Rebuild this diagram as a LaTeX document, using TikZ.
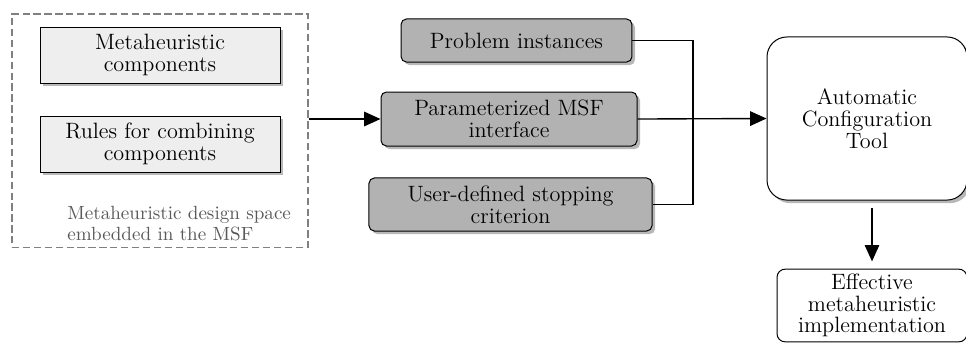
\documentclass[tikz,border=0pt]{standalone}
\usepackage{xcolor}
\usepackage{tikz}
\usetikzlibrary{arrows.meta, positioning, shadows}

\begin{document}
\begin{tikzpicture}[
  x=0.55pt, y=-0.55pt,
  every node/.style={font=\fontsize{12.2}{12}\selectfont, align=center},
  shade/.style={drop shadow={shadow xshift=1.7pt, shadow yshift=-1.7pt, fill=black!28, opacity=1}},
  comp/.style={draw, line width=0.55pt, fill=gray!13, minimum width=132pt, minimum height=30.8pt, inner sep=1pt, shade},
  input/.style={draw, line width=0.55pt, fill=gray!60, rounded corners=3pt, inner sep=1pt, shade},
  tool/.style={draw, line width=0.55pt, fill=white, inner sep=1pt},
  arr/.style={-{Triangle[length=9pt, width=8pt]}, line width=0.75pt},
  link/.style={line width=0.75pt},
]
  \useasboundingbox (0,0) rectangle (966,343);
  \clip (0,0) rectangle (966,343);

  % Design space of the framework
  \node[draw=gray, line width=0.6pt, dash pattern=on 4pt off 2pt, minimum width=162.8pt, minimum height=128.2pt] (space) at (160,130.5) {};
  \node[comp] (meta) at (160,55) {Metaheuristic\\components};
  \node[comp] (rules) at (160,144) {Rules for combining\\components};
  \node[font=\fontsize{10.5}{11.5}\selectfont, text=black!65, align=left, inner sep=0pt, anchor=west] (caption) at (67,224)
       {Metaheuristic design space\\embedded in the MSF};

  % Inputs
  \node[input, minimum width=127pt, minimum height=23.7pt] (prob) at (516.5,40.5) {Problem instances};
  \node[input, minimum width=140.8pt, minimum height=29.7pt] (param) at (509,119) {Parameterized MSF\\interface};
  \node[input, minimum width=155.7pt, minimum height=29.2pt] (stop) at (510.5,204.5) {User-defined stopping\\criterion};

  % Configurator and its output
  \node[tool, rounded corners=11pt, minimum width=110pt, minimum height=89.7pt, shade] (act) at (867,118.5)
       {Automatic\\Configuration\\Tool};
  \node[tool, rounded corners=4.5pt, minimum width=104.5pt, minimum height=40pt] (eff) at (872,305.5)
       {Effective\\metaheuristic\\implementation};

  % Connectors
  \coordinate (bus) at (693,0);
  \draw[arr] (space.east |- param.west) -- (param.west);
  \draw[link] (prob.east) -- (prob.east -| bus) -- (stop.east -| bus) -- (stop.east);
  \draw[arr] (param.east) -- (act.west);
  \draw[arr, shorten <=4pt, shorten >=4pt] (act.south -| eff.north) -- (eff.north);
\end{tikzpicture}
\end{document}
